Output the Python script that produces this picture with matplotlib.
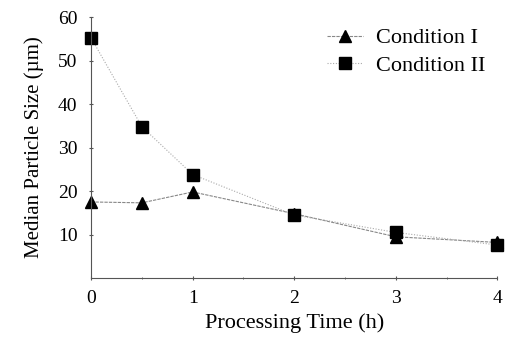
import matplotlib
matplotlib.use('Agg')
import matplotlib.pyplot as plt

# processing time (h) and median particle size (um)
time_h = [0, 0.5, 1, 2, 3, 4]
cond_1 = [17.5, 17.3, 19.8, 14.8, 9.5, 8.2]
cond_2 = [55.2, 34.8, 23.8, 14.5, 10.5, 7.6]

plt.rcParams['font.family'] = ['Liberation Serif', 'DejaVu Serif']

fig = plt.figure(figsize=(5.06, 3.4), dpi=100)
ax = fig.add_axes([0.18, 0.182, 0.803, 0.768])

ax.plot(time_h, cond_1, color='#888888', lw=0.8, ls=(0, (3, 1)),
        marker='^', ms=9, mfc='black', mec='black', label='Condition I')
ax.plot(time_h, cond_2, color='#aaaaaa', lw=0.8, ls=(0, (1, 1.5)),
        marker='s', ms=8, mfc='black', mec='black', label='Condition II')

ax.set_xlim(0, 4)
ax.set_ylim(0, 60)
ax.set_xticks([0, 1, 2, 3, 4])
ax.set_xticks([0.5, 1.5, 2.5, 3.5], minor=True)
ax.set_yticks([10, 20, 30, 40, 50, 60])
ax.spines['top'].set_visible(False)
ax.spines['right'].set_visible(False)
ax.spines['left'].set_color('#555555')
ax.spines['bottom'].set_color('#555555')
ax.tick_params(axis='both', which='both', direction='inout', color='#555555', labelsize=14)
ax.tick_params(axis='x', pad=7)
ax.tick_params(axis='y', pad=8)
ax.set_xlabel('Processing Time (h)', fontsize=16, labelpad=4)
ax.set_ylabel('Median Particle Size (µm)', fontsize=15, labelpad=10)
for a in ax.get_lines():
    a.set_clip_on(False)

ax.legend(loc='upper right', frameon=False, fontsize=16, handlelength=1.6,
          handletextpad=0.6, labelspacing=0.3, bbox_to_anchor=(1.02, 1.035))

fig.savefig('out.png', dpi=100)
